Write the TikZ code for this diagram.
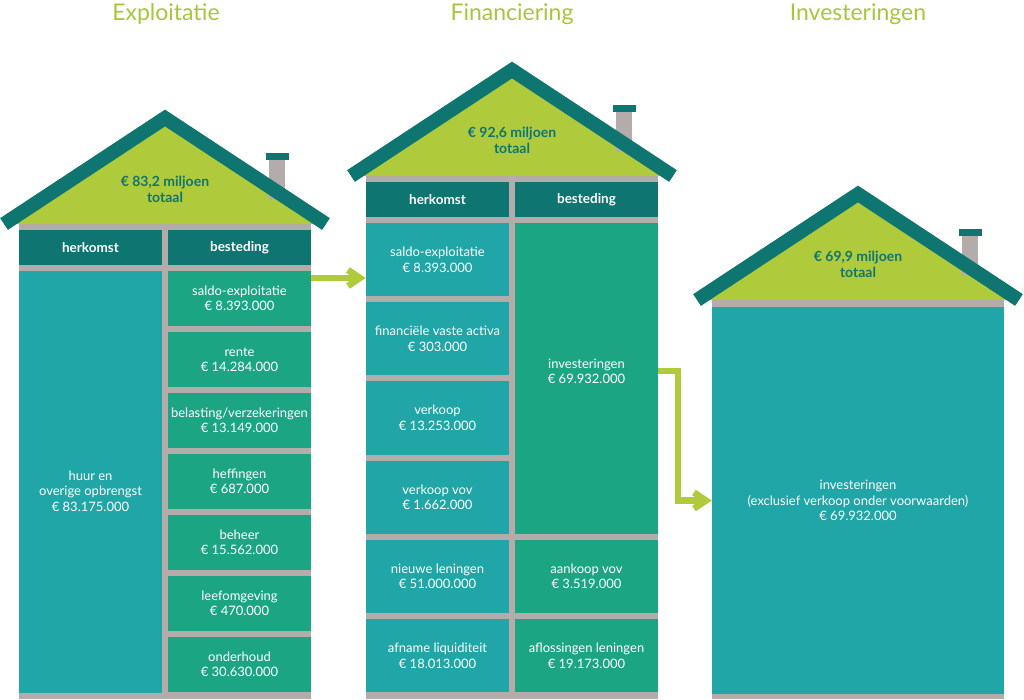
\documentclass[tikz,border=0pt]{standalone}
\usepackage{fontspec}
\setmainfont{Lato}
\usetikzlibrary{arrows.meta}
\definecolor{roofteal}{HTML}{0E7571}
\definecolor{gablegreen}{HTML}{AFCB3C}
\definecolor{wallgray}{HTML}{B4ACAB}
\definecolor{herkteal}{HTML}{20A6A6}
\definecolor{bestgreen}{HTML}{1CA583}
\definecolor{titlegreen}{HTML}{A6C63B}
\begin{document}
\begin{tikzpicture}[x=1pt,y=-1pt,
  celltxt/.style={text=white, font=\fontsize{13}{15.5}\selectfont, align=center, inner sep=0pt},
  cellH/.style={celltxt, fill=herkteal},
  cellB/.style={celltxt, fill=bestgreen},
  hdr/.style={fill=roofteal, text=white, font=\bfseries\fontsize{13.5}{16}\selectfont, inner sep=0pt, minimum height=35pt},
  rooftxt/.style={text=roofteal, font=\bfseries\fontsize{14}{16}\selectfont, align=center, inner sep=0pt},
  titletxt/.style={text=titlegreen, font=\fontsize{23}{27}\selectfont, inner sep=0pt},
  gable/.style={fill=gablegreen},
  wall/.style={fill=wallgray},
  capfill/.style={fill=roofteal},
  roofline/.style={draw=roofteal, line width=14pt, line join=miter, line cap=butt},
  flow/.style={draw=gablegreen, line width=6.5pt, line join=miter, -{Straight Barb[length=12pt,width=16pt]}},
  wide/.style={minimum width=143pt}
]
\useasboundingbox (0,0) rectangle (1024,699);

% ---------------- titles
\node[titletxt] (T1) at (166,14) {Exploitatie};
\node[titletxt] (T2) at (512,14) {Financiering};
\node[titletxt] (T3) at (858,14) {Investeringen};

% ---------------- house 1 (Exploitatie)
\fill[gable] (4,224) -- (165,118) -- (326,224) -- cycle;
\fill[wall] (19,224) rectangle (311,699);
\fill[wall] (269,160) rectangle (285,200);
\fill[capfill] (266,153) rectangle (289,160);
\draw[roofline] (4,224) -- (165,118) -- (326,224);
\node[rooftxt] (R1) at (165,189) {€ 83,2 miljoen\\totaal};
\node[hdr, wide] (H1a) at (90.5,247.5) {herkomst};
\node[hdr, wide] (H1b) at (239.5,247.5) {besteding};
\node[cellH, wide, minimum height=422pt,
  label={[celltxt, yshift=-9pt]center:huur en\\overige opbrengst\\€ 83.175.000}] (A1) at (90.5,482) {};
\node[cellB, wide, minimum height=55pt] (B1) at (239.5,298.5) {saldo-exploitatie\\€ 8.393.000};
\node[cellB, wide, minimum height=55pt] (B2) at (239.5,359.5) {rente\\€ 14.284.000};
\node[cellB, wide, minimum height=55pt] (B3) at (239.5,420.5) {belasting/verzekeringen\\€ 13.149.000};
\node[cellB, wide, minimum height=55pt] (B4) at (239.5,481.5) {heffingen\\€ 687.000};
\node[cellB, wide, minimum height=55pt] (B5) at (239.5,542.5) {beheer\\€ 15.562.000};
\node[cellB, wide, minimum height=55pt] (B6) at (239.5,603.5) {leefomgeving\\€ 470.000};
\node[cellB, wide, minimum height=55pt] (B7) at (239.5,664.5) {onderhoud\\€ 30.630.000};

% ---------------- house 2 (Financiering)
\fill[gable] (351,176) -- (512,70) -- (673,176) -- cycle;
\fill[wall] (366,176) rectangle (658,699);
\fill[wall] (616,112) rectangle (632,152);
\fill[capfill] (613,105) rectangle (636,112);
\draw[roofline] (351,176) -- (512,70) -- (673,176);
\node[rooftxt] (R2) at (512,140) {€ 92,6 miljoen\\totaal};
\node[hdr, wide] (H2a) at (437.5,199.5) {herkomst};
\node[hdr, wide] (H2b) at (586.5,199.5) {besteding};
\node[cellH, wide, minimum height=73.2pt] (F1) at (437.5,259.6) {saldo-exploitatie\\€ 8.393.000};
\node[cellH, wide, minimum height=73.2pt] (F2) at (437.5,338.8) {financiële vaste activa\\€ 303.000};
\node[cellH, wide, minimum height=73.2pt] (F3) at (437.5,418.0) {verkoop\\€ 13.253.000};
\node[cellH, wide, minimum height=73.2pt] (F4) at (437.5,497.2) {verkoop vov\\€ 1.662.000};
\node[cellH, wide, minimum height=73.2pt] (F5) at (437.5,576.4) {nieuwe leningen\\€ 51.000.000};
\node[cellH, wide, minimum height=73.2pt] (F6) at (437.5,655.6) {afname liquiditeit\\€ 18.013.000};
\node[cellB, wide, minimum height=310.8pt,
  label={[celltxt, yshift=7pt]center:investeringen\\€ 69.932.000}] (G1) at (586.5,378.4) {};
\node[cellB, wide, minimum height=73.2pt] (G2) at (586.5,576.4) {aankoop vov\\€ 3.519.000};
\node[cellB, wide, minimum height=73.2pt] (G3) at (586.5,655.6) {aflossingen leningen\\€ 19.173.000};

% ---------------- house 3 (Investeringen)
\fill[gable] (697,300) -- (858,194) -- (1019,300) -- cycle;
\fill[wall] (712,300) rectangle (1004,699);
\fill[wall] (962,236) rectangle (978,276);
\fill[capfill] (959,229) rectangle (982,236);
\draw[roofline] (697,300) -- (858,194) -- (1019,300);
\node[rooftxt] (R3) at (858,264.5) {€ 69,9 miljoen\\totaal};
\node[cellH, minimum width=292pt, minimum height=387pt] (I1) at (858,500.5)
  {investeringen\\(exclusief verkoop onder voorwaarden)\\€ 69.932.000};

% ---------------- connectors
\draw[flow] ([yshift=20.5pt]B1.east) -- ([yshift=20.5pt]B1.east -| F1.west);
\draw[flow] ([yshift=7.4pt]G1.east) -- ++(20,0) |- (I1.west);
\end{tikzpicture}
\end{document}
